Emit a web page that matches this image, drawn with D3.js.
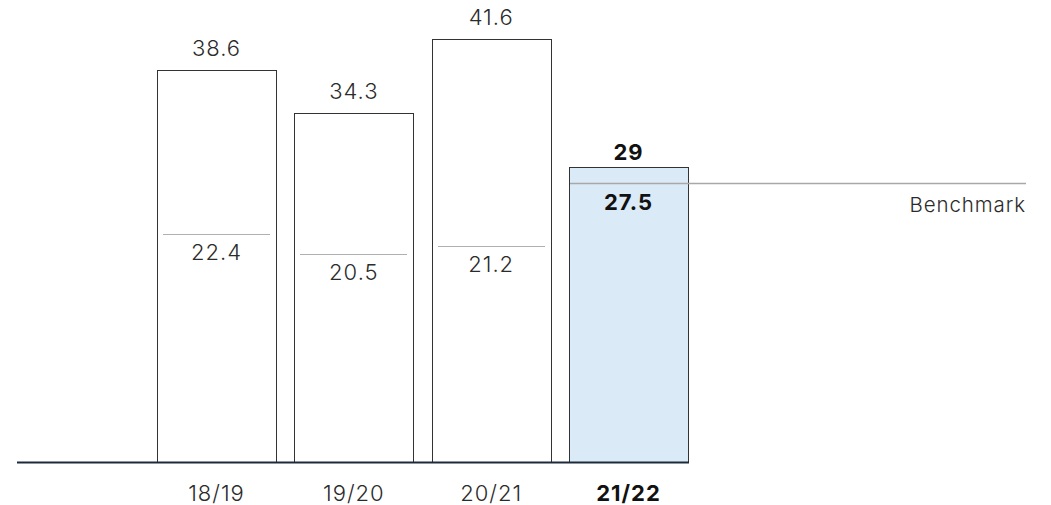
<!DOCTYPE html>
<html>
<head>
<meta charset="utf-8">
<script src="https://cdn.jsdelivr.net/npm/d3@7"></script>
<style>
  html, body { margin: 0; padding: 0; background: #fff; }
  svg { display: block; font-family: Inter, "Liberation Sans", Arial, sans-serif; }
</style>
</head>
<body>
<svg id="chart" width="1051" height="505"></svg>
<script>
// chart data
const seasons = ['18/19', '19/20', '20/21', '21/22'];
const totals = [38.6, 34.3, 41.6, 29];
const inner = [22.4, 20.5, 21.2, 27.5];
const highlight = '21/22';
const benchmarkLabel = 'Benchmark';

const svg = d3.select('#chart');
const FONT = 'Inter, "Liberation Sans", Arial, sans-serif';

const x = d3.scaleBand()
  .domain(seasons)
  .range([157, 688])
  .paddingInner(0.133)
  .paddingOuter(0);

const y = d3.scaleLinear()
  .domain([0, 41.6])
  .range([462, 39]);

const isHi = d => d === highlight;
const weight = d => isHi(d) ? 700 : 300;
const colour = d => isHi(d) ? '#111' : '#2b2b2b';

// bars
svg.selectAll('rect.bar')
  .data(seasons)
  .join('rect')
  .attr('class', 'bar')
  .attr('x', d => Math.round(x(d)) + 0.5)
  .attr('y', (d, i) => Math.round(y(totals[i])) + 0.5)
  .attr('width', Math.round(x.bandwidth()))
  .attr('height', (d, i) => Math.round(y(0) - y(totals[i])))
  .attr('fill', d => isHi(d) ? '#dbeaf7' : '#fff')
  .attr('stroke', '#333')
  .attr('stroke-width', 1);

// inner reference lines (highlighted bar gets the benchmark line instead)
svg.selectAll('line.inner')
  .data(seasons.filter(d => !isHi(d)))
  .join('line')
  .attr('class', 'inner')
  .attr('x1', d => Math.round(x(d)) + 6)
  .attr('x2', d => Math.round(x(d) + x.bandwidth()) - 6)
  .attr('y1', d => Math.round(y(inner[seasons.indexOf(d)])) + 0.5)
  .attr('y2', d => Math.round(y(inner[seasons.indexOf(d)])) + 0.5)
  .attr('stroke', '#b0b0b0')
  .attr('stroke-width', 1.2);

// benchmark line
const hi = seasons.indexOf(highlight);
const benchY = Math.round(y(inner[hi])) + 1.5;
svg.append('line')
  .attr('x1', Math.round(x(highlight)) + 1)
  .attr('x2', 1026)
  .attr('y1', benchY)
  .attr('y2', benchY)
  .attr('stroke', '#a8a8a8')
  .attr('stroke-width', 1.5);

svg.append('text')
  .attr('x', 1026)
  .attr('y', benchY + 28)
  .attr('text-anchor', 'end')
  .attr('font-size', 20.5)
  .attr('font-weight', 300)
  .attr('letter-spacing', 0.9)
  .attr('fill', '#2b2b2b')
  .text(benchmarkLabel);

// total labels
svg.selectAll('text.total')
  .data(seasons)
  .join('text')
  .attr('class', 'total')
  .attr('x', d => x(d) + x.bandwidth() / 2)
  .attr('y', (d, i) => y(totals[i]) - (isHi(d) ? 7 : 14))
  .attr('text-anchor', 'middle')
  .attr('font-size', 22)
  .attr('font-weight', weight)
  .attr('letter-spacing', 1)
  .attr('fill', colour)
  .text((d, i) => totals[i]);

// inner labels
svg.selectAll('text.inner')
  .data(seasons)
  .join('text')
  .attr('class', 'inner')
  .attr('x', d => x(d) + x.bandwidth() / 2)
  .attr('y', (d, i) => (isHi(d) ? benchY : y(inner[i])) + 26)
  .attr('text-anchor', 'middle')
  .attr('font-size', 22)
  .attr('font-weight', weight)
  .attr('letter-spacing', 1)
  .attr('fill', colour)
  .text((d, i) => inner[i]);

// baseline
svg.append('line')
  .attr('x1', 17)
  .attr('x2', Math.round(x(highlight) + x.bandwidth()) + 1)
  .attr('y1', y(0) + 0.5)
  .attr('y2', y(0) + 0.5)
  .attr('stroke', '#1c2a3a')
  .attr('stroke-width', 1.8);

// category axis labels
const xAxis = svg.append('g')
  .attr('transform', `translate(0,${y(0)})`)
  .call(d3.axisBottom(x).tickSize(0).tickPadding(39));
xAxis.select('.domain').remove();
xAxis.selectAll('text')
  .attr('font-family', FONT)
  .attr('font-size', 22)
  .attr('font-weight', weight)
  .attr('letter-spacing', 1)
  .attr('fill', colour)
  .attr('dy', 0);
</script>
</body>
</html>
